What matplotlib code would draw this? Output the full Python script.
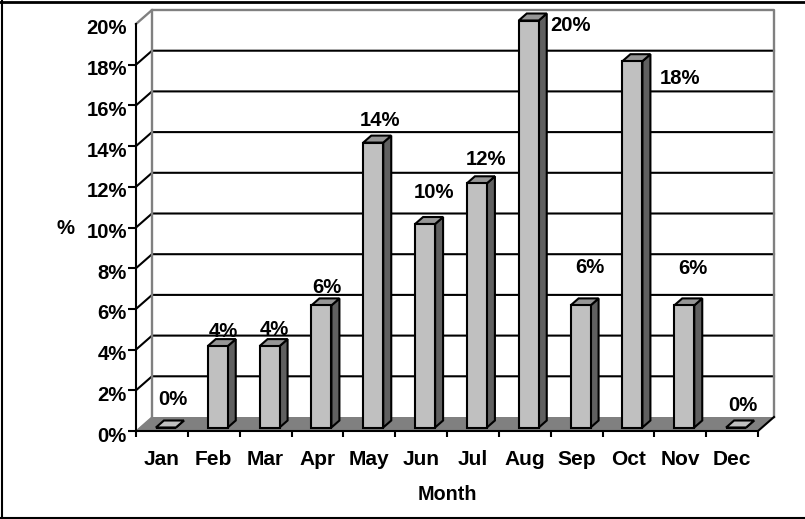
import numpy as np
import matplotlib.pyplot as plt
from matplotlib.lines import Line2D
from matplotlib.transforms import ScaledTranslation

months = ['Jan', 'Feb', 'Mar', 'Apr', 'May', 'Jun',
          'Jul', 'Aug', 'Sep', 'Oct', 'Nov', 'Dec']
values = [0, 4, 4, 6, 14, 10, 12, 20, 6, 18, 6, 0]
y_ticks = [0, 2, 4, 6, 8, 10, 12, 14, 16, 18, 20]

# Pixel nudges for the value labels, measured from the top of each bar
label_dx = [7, 6, 5, 5, 7, 9, 9, 42, 9, 48, 9, 7]
label_dy = [28, 15, 17, 18, 22, 32, 24, -5, 38, -17, 37, 22]

W, H = 805, 519
plt.rcParams['font.family'] = ['Liberation Sans', 'DejaVu Sans']
plt.rcParams['font.weight'] = 'bold'
plt.rcParams['font.size'] = 14.6

fig = plt.figure(figsize=(W / 100, H / 100), dpi=100)
ax = fig.add_axes([136 / W, 1 - 431 / H, 622 / W, 407 / H])
ax.set_xlim(0, 12)
ax.set_ylim(0, 20)
ax.patch.set_visible(False)

# Depth of the fake 3D box, in data units
depth_x = 16 / (622 / 12)
depth_y = 14 / (407 / 20)
bar_width = 20 / (622 / 12)
line_w = 1.5

# Floor
ax.fill([0, 12, 12 + depth_x, depth_x], [0, 0, depth_y, depth_y],
        color='#808080', lw=0, clip_on=False, zorder=1)

# Gridlines run along the back wall and down the left wall
for t in y_ticks[1:-1]:
    ax.plot([0, depth_x, 12 + depth_x], [t, t + depth_y, t + depth_y],
            color='black', lw=line_w, clip_on=False, zorder=2,
            solid_joinstyle='miter')

# Grey outline of the back wall
ax.plot([0, depth_x, 12 + depth_x, 12 + depth_x],
        [20, 20 + depth_y, 20 + depth_y, depth_y],
        color='#808080', lw=line_w + 0.2, clip_on=False, zorder=2)
ax.plot([depth_x, depth_x], [depth_y, 20 + depth_y],
        color='#808080', lw=line_w + 0.2, clip_on=False, zorder=2)
ax.plot([0, depth_x], [0, depth_y], color='#808080', lw=1, clip_on=False, zorder=2)
ax.plot([12, 12 + depth_x], [0, depth_y], color='black', lw=line_w,
        clip_on=False, zorder=2)

# Bars: front face from ax.bar, side and top as polygons behind it
x = np.arange(12) + 0.5 + 0.25 * depth_x
base = 0.25 * depth_y
dx = 0.5 * depth_x
dy = 0.5 * depth_y
for xi, v in zip(x, values):
    left = xi - bar_width / 2
    right = xi + bar_width / 2
    top = v + base
    ax.fill([right, right + dx, right + dx, right],
            [base, base + dy, top + dy, top],
            facecolor='#606060', edgecolor='black', lw=line_w,
            clip_on=False, zorder=3)
    ax.fill([left, right, right + dx, left + dx],
            [top, top, top + dy, top + dy],
            facecolor='#969696' if v > 0 else '#C0C0C0',
            edgecolor='black', lw=line_w, clip_on=False, zorder=3)
ax.bar(x, values, width=bar_width, bottom=base, facecolor='#C0C0C0',
       edgecolor='black', lw=line_w, clip_on=False, zorder=4)

# Value labels
for i, v in enumerate(values):
    ax.annotate('%d%%' % v, (x[i], v + base),
                xytext=(label_dx[i] * 0.72, label_dy[i] * 0.72),
                textcoords='offset points', ha='center', va='center',
                annotation_clip=False, zorder=5)

# Axes: ticks sit on the category edges, labels in the middle
for side in ['top', 'right']:
    ax.spines[side].set_visible(False)
for side in ['left', 'bottom']:
    ax.spines[side].set_linewidth(line_w)
    ax.spines[side].set_zorder(6)

ax.set_xticks(np.arange(13))
ax.set_xticklabels([])
ax.set_xticks(np.arange(12) + 0.5, months, minor=True)
ax.tick_params(axis='x', which='major', length=4.5, width=line_w)
ax.tick_params(axis='x', which='minor', length=0, pad=14, labelsize=15)
ax.set_yticks(y_ticks)
ax.set_yticklabels(['%d%%' % t for t in y_ticks])
ax.tick_params(axis='y', length=6, width=line_w, pad=0.5)
ax.yaxis.get_major_ticks()[-1].tick1line.set_visible(False)
shift = ScaledTranslation(0, -3 / 100, fig.dpi_scale_trans)
for lab in ax.get_yticklabels():
    lab.set_transform(lab.get_transform() + shift)

fig.text(447 / W, 1 - 495 / H, 'Month', ha='center', va='center', fontsize=14.2)
fig.text(65 / W, 1 - 229 / H, '%', ha='center', va='center')

# Frame around the chart, open on the right
fig.add_artist(Line2D([2 / W, 2 / W], [1, 0], color='black', lw=1.5))
fig.add_artist(Line2D([0, 1], [1 - 1.5 / H, 1 - 1.5 / H], color='black', lw=2))
fig.add_artist(Line2D([0, 1], [1 - 517.5 / H, 1 - 517.5 / H], color='black', lw=1.5))

fig.savefig('out.png', dpi=100)
